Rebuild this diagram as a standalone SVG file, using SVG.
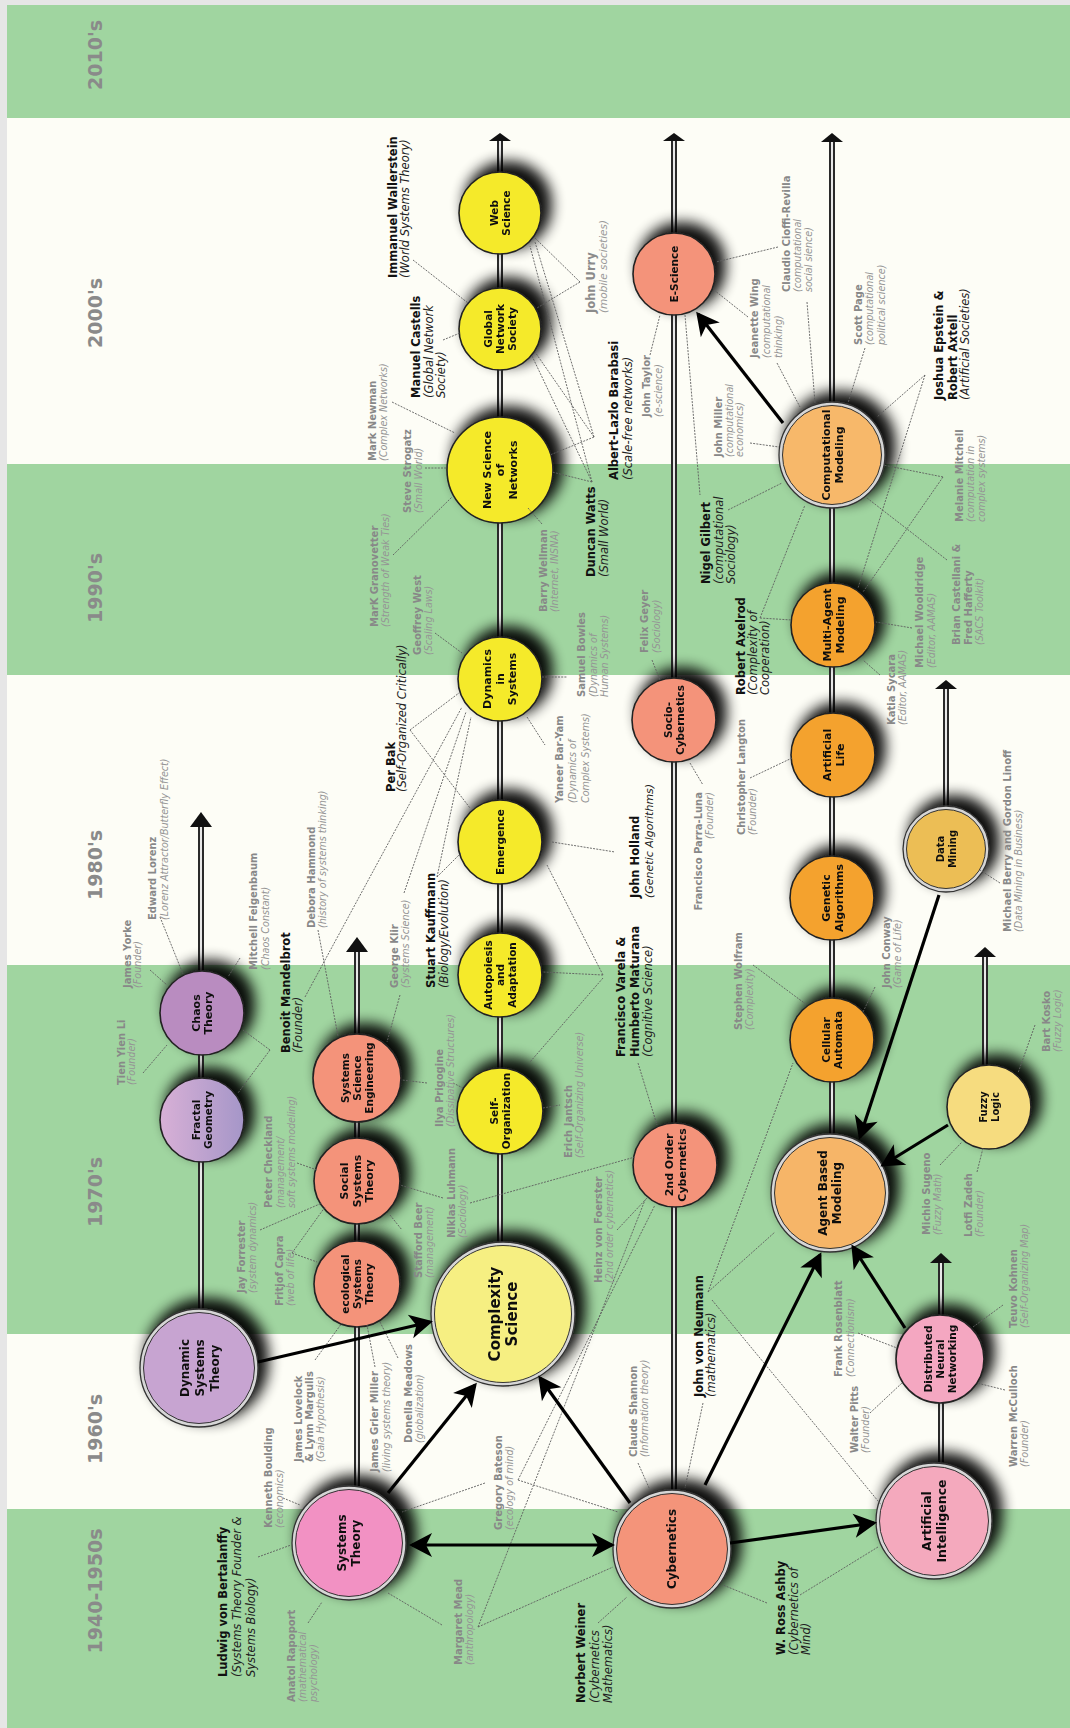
<svg xmlns="http://www.w3.org/2000/svg" width="1070" height="1728" viewBox="0 0 1070 1728">
<style>
.dec{font-family:"DejaVu Sans",Verdana,sans-serif;font-weight:bold;font-size:19px;fill:#8a8a8a;text-anchor:middle}
.nt{font-family:"DejaVu Sans",Verdana,sans-serif;font-weight:bold;fill:#111;text-anchor:middle}
.bl{font-family:"DejaVu Sans",Verdana,sans-serif;font-size:11.5px;fill:#111}
.bl .n{font-weight:bold}
.bl .r{font-style:italic;fill:#222}
.gl{font-family:"DejaVu Sans",Verdana,sans-serif;font-size:9.6px;fill:#959595}
.gl .n{font-weight:bold;font-size:10px;fill:#888}
.gl .r{font-style:italic}
.trk{stroke:#2a2a2a;stroke-width:6;fill:none}
.trk2{stroke:#e8e8e8;stroke-width:2;fill:none}
.dl{stroke:#5e5e5e;stroke-width:0.9;stroke-dasharray:2 1.2;fill:none}
.ar{stroke:#000;stroke-width:3.2;fill:none;marker-end:url(#ah)}
.s1{stroke:#222;stroke-width:1.6}
.dr{fill:#d6d6d6;stroke:#333;stroke-width:1.3}
.in{stroke:#333;stroke-width:1}
.node{filter:url(#sh)}
.ah{fill:#111}
</style>
<defs>
<filter id="sh" x="-60%" y="-60%" width="220%" height="220%">
<feMorphology in="SourceAlpha" operator="dilate" radius="2" result="d"/>
<feGaussianBlur in="d" stdDeviation="7" result="b"/>
<feOffset in="b" dx="8" dy="-8" result="o"/>
<feComponentTransfer in="o" result="o2"><feFuncA type="linear" slope="0.95"/></feComponentTransfer>
<feMerge><feMergeNode in="o2"/><feMergeNode in="SourceGraphic"/></feMerge>
</filter>
<linearGradient id="fg" x1="0" y1="0" x2="1" y2="0">
<stop offset="0" stop-color="#d8b0d6"/><stop offset="1" stop-color="#a596c8"/>
</linearGradient>
<marker id="ah" viewBox="-22 -13 26 26" refX="0" refY="0" markerWidth="26" markerHeight="26" markerUnits="userSpaceOnUse" orient="auto-start-reverse">
<path d="M3,0 L-20,-12 L-14,0 L-20,12 Z" fill="#000"/>
</marker>
</defs>

<g id="background">
<rect x="0" y="0" width="1070" height="1728" fill="#e6e6e6"/>
<rect x="7" y="5" width="1063" height="1723" fill="#fdfdf6"/>
<rect x="7" y="5" width="1063" height="113" fill="#a0d5a0"/>
<rect x="7" y="464" width="1063" height="211" fill="#a0d5a0"/>
<rect x="7" y="965" width="1063" height="369" fill="#a0d5a0"/>
<rect x="7" y="1509" width="1063" height="219" fill="#a0d5a0"/>
</g>

<g id="decades">
<text class="dec" transform="translate(102,55) rotate(-90)">2010's</text>
<text class="dec" transform="translate(102,313) rotate(-90)">2000's</text>
<text class="dec" transform="translate(102,588) rotate(-90)">1990's</text>
<text class="dec" transform="translate(102,865) rotate(-90)">1980's</text>
<text class="dec" transform="translate(102,1192) rotate(-90)">1970's</text>
<text class="dec" transform="translate(102,1429) rotate(-90)">1960's</text>
<text class="dec" transform="translate(102,1591) rotate(-90)">1940-1950s</text>
</g>

<g id="tracks">
<path class="trk" d="M201,1310V826 M357,1487V950 M500,1243V140 M674,1490V140 M832,1134V141 M941,1462V1262 M946,806V688 M985,1065V956"/>
<path class="trk2" d="M201,1310V826 M357,1487V950 M500,1243V140 M674,1490V140 M832,1134V141 M941,1462V1262 M946,806V688 M985,1065V956"/>
<polygon class="ah" points="201,812 190,827 212,827"/>
<polygon class="ah" points="357,937 346,952 368,952"/>
<polygon class="ah" points="500,133 489,141 511,141"/>
<polygon class="ah" points="674,133 663,141 685,141"/>
<polygon class="ah" points="832,133 821,142 843,142"/>
<polygon class="ah" points="941,1253 930,1263 952,1263"/>
<polygon class="ah" points="946,680 935,689 957,689"/>
<polygon class="ah" points="985,947 974,957 996,957"/>
</g>

<g id="n-systems-theory" class="node"><circle cx="349" cy="1543" r="57" class="dr"/><circle cx="349" cy="1543" r="53.5" fill="#f291c3" class="in"/><text class="nt" font-size="12" transform="translate(349,1543) rotate(-90)"><tspan x="0" y="-2.8">Systems</tspan><tspan x="0" y="11.2">Theory</tspan></text></g>
<g id="n-cybernetics" class="node"><circle cx="672" cy="1549" r="59" class="dr"/><circle cx="672" cy="1549" r="55.5" fill="#f4947a" class="in"/><text class="nt" font-size="12" transform="translate(672,1549) rotate(-90)"><tspan x="0" y="4.2">Cybernetics</tspan></text></g>
<g id="n-complexity-science" class="node"><circle cx="503" cy="1314" r="72" class="dr"/><circle cx="503" cy="1314" r="68.5" fill="#f6ef82" class="in"/><text class="nt" font-size="15" transform="translate(503,1314) rotate(-90)"><tspan x="0" y="-3.3">Complexity</tspan><tspan x="0" y="13.7">Science</tspan></text></g>
<g id="n-artificial-intelligence" class="node"><circle cx="934" cy="1521" r="58" class="dr"/><circle cx="934" cy="1521" r="54.5" fill="#f4a9bd" class="in"/><text class="nt" font-size="12.5" transform="translate(934,1521) rotate(-90)"><tspan x="0" y="-2.9">Artificial</tspan><tspan x="0" y="11.6">Intelligence</tspan></text></g>
<g id="n-dynamic-systems-theory" class="node"><circle cx="199" cy="1368" r="59" class="dr"/><circle cx="199" cy="1368" r="55.5" fill="#c7a4d1" class="in"/><text class="nt" font-size="12" transform="translate(199,1368) rotate(-90)"><tspan x="0" y="-10">Dynamic</tspan><tspan x="0" y="5">Systems</tspan><tspan x="0" y="20">Theory</tspan></text></g>
<g id="n-ecological-systems-theory" class="node"><circle cx="357" cy="1284" r="43" fill="#f4937a" class="s1"/><text class="nt" font-size="10.5" transform="translate(357,1284) rotate(-90)"><tspan x="0" y="-8.3">ecological</tspan><tspan x="0" y="3.7">Systems</tspan><tspan x="0" y="15.7">Theory</tspan></text></g>
<g id="n-social-systems-theory" class="node"><circle cx="357" cy="1181" r="43" fill="#f4937a" class="s1"/><text class="nt" font-size="11" transform="translate(357,1181) rotate(-90)"><tspan x="0" y="-8.6">Social</tspan><tspan x="0" y="3.9">Systems</tspan><tspan x="0" y="16.4">Theory</tspan></text></g>
<g id="n-systems-science-engineering" class="node"><circle cx="357" cy="1078" r="44" fill="#f4937a" class="s1"/><text class="nt" font-size="10.5" transform="translate(357,1078) rotate(-90)"><tspan x="0" y="-8.3">Systems</tspan><tspan x="0" y="3.7">Science</tspan><tspan x="0" y="15.7">Engineering</tspan></text></g>
<g id="n-fractal-geometry" class="node"><circle cx="202" cy="1120" r="42" fill="url(#fg)" class="s1"/><text class="nt" font-size="10.5" transform="translate(202,1120) rotate(-90)"><tspan x="0" y="-2.3">Fractal</tspan><tspan x="0" y="9.7">Geometry</tspan></text></g>
<g id="n-chaos-theory" class="node"><circle cx="202" cy="1013" r="42" fill="#b98cc0" class="s1"/><text class="nt" font-size="11" transform="translate(202,1013) rotate(-90)"><tspan x="0" y="-2.4">Chaos</tspan><tspan x="0" y="10.1">Theory</tspan></text></g>
<g id="n-self-organization" class="node"><circle cx="500" cy="1111" r="43" fill="#f5ea2c" class="s1"/><text class="nt" font-size="10.5" transform="translate(500,1111) rotate(-90)"><tspan x="0" y="-2.3">Self-</tspan><tspan x="0" y="9.7">Organization</tspan></text></g>
<g id="n-autopoiesis" class="node"><circle cx="500" cy="975" r="42" fill="#f5ea2c" class="s1"/><text class="nt" font-size="10.5" transform="translate(500,975) rotate(-90)"><tspan x="0" y="-8.3">Autopoiesis</tspan><tspan x="0" y="3.7">and</tspan><tspan x="0" y="15.7">Adaptation</tspan></text></g>
<g id="n-emergence" class="node"><circle cx="500" cy="842" r="42" fill="#f5ea2c" class="s1"/><text class="nt" font-size="10.5" transform="translate(500,842) rotate(-90)"><tspan x="0" y="3.7">Emergence</tspan></text></g>
<g id="n-dynamics-in-systems" class="node"><circle cx="500" cy="679" r="42" fill="#f5ea2c" class="s1"/><text class="nt" font-size="11" transform="translate(500,679) rotate(-90)"><tspan x="0" y="-8.6">Dynamics</tspan><tspan x="0" y="3.9">in</tspan><tspan x="0" y="16.4">Systems</tspan></text></g>
<g id="n-new-science-of-networks" class="node"><circle cx="500" cy="470" r="53" fill="#f5ea2c" class="s1"/><text class="nt" font-size="11" transform="translate(500,470) rotate(-90)"><tspan x="0" y="-9.1">New Science</tspan><tspan x="0" y="3.9">of</tspan><tspan x="0" y="16.9">Networks</tspan></text></g>
<g id="n-global-network-society" class="node"><circle cx="500" cy="329" r="41" fill="#f5ea2c" class="s1"/><text class="nt" font-size="10.5" transform="translate(500,329) rotate(-90)"><tspan x="0" y="-8.3">Global</tspan><tspan x="0" y="3.7">Network</tspan><tspan x="0" y="15.7">Society</tspan></text></g>
<g id="n-web-science" class="node"><circle cx="500" cy="213" r="41" fill="#f5ea2c" class="s1"/><text class="nt" font-size="10.5" transform="translate(500,213) rotate(-90)"><tspan x="0" y="-2.3">Web</tspan><tspan x="0" y="9.7">Science</tspan></text></g>
<g id="n-socio-cybernetics" class="node"><circle cx="674" cy="720" r="42" fill="#f4937a" class="s1"/><text class="nt" font-size="10.5" transform="translate(674,720) rotate(-90)"><tspan x="0" y="-2.3">Socio-</tspan><tspan x="0" y="9.7">Cybernetics</tspan></text></g>
<g id="n-2nd-order-cybernetics" class="node"><circle cx="675" cy="1165" r="42" fill="#f4937a" class="s1"/><text class="nt" font-size="11" transform="translate(675,1165) rotate(-90)"><tspan x="0" y="-2.4">2nd Order</tspan><tspan x="0" y="10.6">Cybernetics</tspan></text></g>
<g id="n-e-science" class="node"><circle cx="674" cy="274" r="41" fill="#f4937a" class="s1"/><text class="nt" font-size="10.5" transform="translate(674,274) rotate(-90)"><tspan x="0" y="3.7">E-Science</tspan></text></g>
<g id="n-computational-modeling" class="node"><circle cx="832" cy="455" r="53" class="dr"/><circle cx="832" cy="455" r="49.5" fill="#f7b86a" class="in"/><text class="nt" font-size="11" transform="translate(832,455) rotate(-90)"><tspan x="0" y="-2.4">Computational</tspan><tspan x="0" y="10.6">Modeling</tspan></text></g>
<g id="n-multi-agent-modeling" class="node"><circle cx="833" cy="625" r="42" fill="#f4a22e" class="s1"/><text class="nt" font-size="11" transform="translate(833,625) rotate(-90)"><tspan x="0" y="-2.4">Multi-Agent</tspan><tspan x="0" y="10.6">Modeling</tspan></text></g>
<g id="n-artificial-life" class="node"><circle cx="833" cy="755" r="42" fill="#f4a22e" class="s1"/><text class="nt" font-size="11" transform="translate(833,755) rotate(-90)"><tspan x="0" y="-2.4">Artificial</tspan><tspan x="0" y="10.6">Life</tspan></text></g>
<g id="n-genetic-algorithms" class="node"><circle cx="832" cy="898" r="42" fill="#f4a22e" class="s1"/><text class="nt" font-size="11" transform="translate(832,898) rotate(-90)"><tspan x="0" y="-2.4">Genetic</tspan><tspan x="0" y="10.6">Algorithms</tspan></text></g>
<g id="n-cellular-automata" class="node"><circle cx="832" cy="1040" r="42" fill="#f4a22e" class="s1"/><text class="nt" font-size="10.5" transform="translate(832,1040) rotate(-90)"><tspan x="0" y="-2.3">Cellular</tspan><tspan x="0" y="9.7">Automata</tspan></text></g>
<g id="n-agent-based-modeling" class="node"><circle cx="830" cy="1193" r="59" class="dr"/><circle cx="830" cy="1193" r="55.5" fill="#f6b567" class="in"/><text class="nt" font-size="12" transform="translate(830,1193) rotate(-90)"><tspan x="0" y="-2.8">Agent Based</tspan><tspan x="0" y="11.2">Modeling</tspan></text></g>
<g id="n-data-mining" class="node"><circle cx="946" cy="849" r="43" class="dr"/><circle cx="946" cy="849" r="39.5" fill="#ecbe55" class="in"/><text class="nt" font-size="10" transform="translate(946,849) rotate(-90)"><tspan x="0" y="-2.5">Data</tspan><tspan x="0" y="9.5">Mining</tspan></text></g>
<g id="n-fuzzy-logic" class="node"><circle cx="989" cy="1107" r="42" fill="#f6dc7f" class="s1"/><text class="nt" font-size="10" transform="translate(989,1107) rotate(-90)"><tspan x="0" y="-2.5">Fuzzy</tspan><tspan x="0" y="9.5">Logic</tspan></text></g>
<g id="n-distributed-neural-networking" class="node"><circle cx="940" cy="1359" r="44" fill="#f4a7c1" class="s1"/><text class="nt" font-size="10.5" transform="translate(940,1359) rotate(-90)"><tspan x="0" y="-8.3">Distributed</tspan><tspan x="0" y="3.7">Neural</tspan><tspan x="0" y="15.7">Networking</tspan></text></g>

<g id="connectors">
<path class="dl" d="M283,1498L300,1505"/>
<path class="dl" d="M315,1360L342,1323"/>
<path class="dl" d="M258,1557L291,1545"/>
<path class="dl" d="M308,1623L322,1602"/>
<path class="dl" d="M375,1367L367,1325"/>
<path class="dl" d="M398,1358L380,1322"/>
<path class="dl" d="M485,1483L402,1512"/>
<path class="dl" d="M518,1480L618,1512"/>
<path class="dl" d="M518,1480L655,1205"/>
<path class="dl" d="M442,1625L388,1593"/>
<path class="dl" d="M478,1627L613,1567"/>
<path class="dl" d="M478,1627L645,1200"/>
<path class="dl" d="M598,1623L627,1597"/>
<path class="dl" d="M638,1463L650,1490"/>
<path class="dl" d="M703,1403L685,1488"/>
<path class="dl" d="M708,1292L793,1063"/>
<path class="dl" d="M708,1292L775,1232"/>
<path class="dl" d="M712,1300L883,1507"/>
<path class="dl" d="M767,1603L723,1585"/>
<path class="dl" d="M800,1595L878,1547"/>
<path class="dl" d="M858,1333L897,1348"/>
<path class="dl" d="M870,1413L902,1383"/>
<path class="dl" d="M1005,1390L977,1383"/>
<path class="dl" d="M1003,1305L973,1327"/>
<path class="dl" d="M940,1165L962,1142"/>
<path class="dl" d="M977,1172L983,1148"/>
<path class="dl" d="M1035,1025L1018,1073"/>
<path class="dl" d="M753,965L807,1005"/>
<path class="dl" d="M875,987L863,1012"/>
<path class="dl" d="M1000,883L980,870"/>
<path class="dl" d="M750,778L792,758"/>
<path class="dl" d="M880,675L863,660"/>
<path class="dl" d="M912,628L876,622"/>
<path class="dl" d="M947,560L867,498"/>
<path class="dl" d="M943,477L883,465"/>
<path class="dl" d="M943,477L863,592"/>
<path class="dl" d="M925,375L877,417"/>
<path class="dl" d="M925,375L858,588"/>
<path class="dl" d="M760,618L792,620"/>
<path class="dl" d="M760,618L805,505"/>
<path class="dl" d="M728,510L782,483"/>
<path class="dl" d="M750,443L779,447"/>
<path class="dl" d="M748,317L714,290"/>
<path class="dl" d="M777,363L800,407"/>
<path class="dl" d="M778,247L716,262"/>
<path class="dl" d="M807,302L815,403"/>
<path class="dl" d="M865,348L848,403"/>
<path class="dl" d="M650,355L660,315"/>
<path class="dl" d="M685,315L700,495"/>
<path class="dl" d="M652,660L660,680"/>
<path class="dl" d="M690,763L703,785"/>
<path class="dl" d="M542,677L567,677"/>
<path class="dl" d="M527,717L545,745"/>
<path class="dl" d="M435,633L462,653"/>
<path class="dl" d="M393,555L452,497"/>
<path class="dl" d="M425,468L447,468"/>
<path class="dl" d="M392,402L455,433"/>
<path class="dl" d="M528,508L542,524"/>
<path class="dl" d="M443,340L460,333"/>
<path class="dl" d="M413,260L468,303"/>
<path class="dl" d="M580,282L535,238"/>
<path class="dl" d="M580,282L537,308"/>
<path class="dl" d="M594,437L535,242"/>
<path class="dl" d="M594,437L535,352"/>
<path class="dl" d="M594,437L550,455"/>
<path class="dl" d="M592,482L530,246"/>
<path class="dl" d="M592,482L532,356"/>
<path class="dl" d="M592,482L552,472"/>
<path class="dl" d="M410,730L459,693"/>
<path class="dl" d="M410,730L470,808"/>
<path class="dl" d="M305,997L462,707"/>
<path class="dl" d="M404,893L466,712"/>
<path class="dl" d="M437,877L471,717"/>
<path class="dl" d="M437,877L461,853"/>
<path class="dl" d="M603,975L543,972"/>
<path class="dl" d="M603,978L530,1062"/>
<path class="dl" d="M603,975L547,865"/>
<path class="dl" d="M638,1063L657,1125"/>
<path class="dl" d="M318,930L338,1036"/>
<path class="dl" d="M270,1050L243,1030"/>
<path class="dl" d="M270,1050L238,1093"/>
<path class="dl" d="M240,958L228,977"/>
<path class="dl" d="M160,917L183,974"/>
<path class="dl" d="M150,970L167,985"/>
<path class="dl" d="M143,1073L167,1045"/>
<path class="dl" d="M297,1163L317,1170"/>
<path class="dl" d="M260,1230L322,1203"/>
<path class="dl" d="M292,1253L325,1207"/>
<path class="dl" d="M292,1253L317,1262"/>
<path class="dl" d="M390,1215L402,1230"/>
<path class="dl" d="M443,1198L400,1185"/>
<path class="dl" d="M470,1203L635,1157"/>
<path class="dl" d="M427,1083L402,1080"/>
<path class="dl" d="M453,1083L463,1088"/>
<path class="dl" d="M400,995L387,1042"/>
<path class="dl" d="M543,1108L560,1105"/>
<path class="dl" d="M617,1230L648,1197"/>
<path class="dl" d="M552,842L615,852"/>
<path class="ar" d="M412,1545L612,1545" marker-start="url(#ah)"/>
<path class="ar" d="M388,1493L475,1385"/>
<path class="ar" d="M630,1503L540,1378"/>
<path class="ar" d="M258,1362L430,1322"/>
<path class="ar" d="M730,1543L874,1523"/>
<path class="ar" d="M705,1485L820,1255"/>
<path class="ar" d="M905,1328L853,1247"/>
<path class="ar" d="M939,895L860,1137"/>
<path class="ar" d="M948,1125L883,1165"/>
<path class="ar" d="M783,423L698,314"/>
</g>

<g id="people">
<text class="gl" transform="translate(272,1528) rotate(-90)"><tspan class="n" x="0" y="0">Kenneth Boulding</tspan><tspan class="r" x="0" y="11">(economics)</tspan></text>
<text class="gl" transform="translate(302,1462) rotate(-90)"><tspan class="n" x="0" y="0">James Lovelock</tspan><tspan class="n" x="0" y="11">&amp; Lynn Margulis</tspan><tspan class="r" x="0" y="22">(Gaia Hypothesis)</tspan></text>
<text class="gl" transform="translate(295,1702) rotate(-90)"><tspan class="n" x="0" y="0">Anatol Rapoport</tspan><tspan class="r" x="0" y="11">(mathematical</tspan><tspan class="r" x="0" y="22">psychology)</tspan></text>
<text class="gl" transform="translate(378,1472) rotate(-90)"><tspan class="n" x="0" y="0">James Grier Miller</tspan><tspan class="r" x="0" y="11.5">(living systems theory)</tspan></text>
<text class="gl" transform="translate(412,1443) rotate(-90)"><tspan class="n" x="0" y="0">Donella Meadows</tspan><tspan class="r" x="0" y="11">(globalization)</tspan></text>
<text class="gl" transform="translate(502,1530) rotate(-90)"><tspan class="n" x="0" y="0">Gregory Bateson</tspan><tspan class="r" x="0" y="11">(ecology of mind)</tspan></text>
<text class="gl" transform="translate(462,1665) rotate(-90)"><tspan class="n" x="0" y="0">Margaret Mead</tspan><tspan class="r" x="0" y="11">(anthropology)</tspan></text>
<text class="gl" transform="translate(637,1457) rotate(-90)"><tspan class="n" x="0" y="0">Claude Shannon</tspan><tspan class="r" x="0" y="11">(Information theory)</tspan></text>
<text class="gl" transform="translate(842,1377) rotate(-90)"><tspan class="n" x="0" y="0">Frank Rosenblatt</tspan><tspan class="r" x="0" y="12">(Connectionism)</tspan></text>
<text class="gl" transform="translate(858,1453) rotate(-90)"><tspan class="n" x="0" y="0">Walter Pitts</tspan><tspan class="r" x="0" y="10.5">(Founder)</tspan></text>
<text class="gl" transform="translate(1017,1467) rotate(-90)"><tspan class="n" x="0" y="0">Warren McCulloch</tspan><tspan class="r" x="0" y="11">(Founder)</tspan></text>
<text class="gl" transform="translate(1017,1328) rotate(-90)"><tspan class="n" x="0" y="0">Teuvo Kohnen</tspan><tspan class="r" x="0" y="11">(Self-Organizing Map)</tspan></text>
<text class="gl" transform="translate(930,1235) rotate(-90)"><tspan class="n" x="0" y="0">Michio Sugeno</tspan><tspan class="r" x="0" y="10.5">(Fuzzy Math)</tspan></text>
<text class="gl" transform="translate(972,1237) rotate(-90)"><tspan class="n" x="0" y="0">Lotfi Zadeh</tspan><tspan class="r" x="0" y="11">(Founder)</tspan></text>
<text class="gl" transform="translate(1050,1052) rotate(-90)"><tspan class="n" x="0" y="0">Bart Kosko</tspan><tspan class="r" x="0" y="10.5">(Fuzzy Logic)</tspan></text>
<text class="gl" transform="translate(742,1030) rotate(-90)"><tspan class="n" x="0" y="0">Stephen Wolfram</tspan><tspan class="r" x="0" y="11">(Complexity)</tspan></text>
<text class="gl" transform="translate(890,988) rotate(-90)"><tspan class="n" x="0" y="0">John Conway</tspan><tspan class="r" x="0" y="10.5">(Game of Life)</tspan></text>
<text class="gl" transform="translate(745,835) rotate(-90)"><tspan class="n" x="0" y="0">Christopher Langton</tspan><tspan class="r" x="0" y="10.5">(Founder)</tspan></text>
<text class="gl" transform="translate(1011,932) rotate(-90)"><tspan class="n" x="0" y="0">Michael Berry and Gordon Linoff</tspan><tspan class="r" x="0" y="11">(Data Mining in Business)</tspan></text>
<text class="gl" transform="translate(895,725) rotate(-90)"><tspan class="n" x="0" y="0">Katia Sycara</tspan><tspan class="r" x="0" y="10.5">(Editor, AAMAS)</tspan></text>
<text class="gl" transform="translate(923,668) rotate(-90)"><tspan class="n" x="0" y="0">Michael Wooldridge</tspan><tspan class="r" x="0" y="11.5">(Editor, AAMAS)</tspan></text>
<text class="gl" transform="translate(960,645) rotate(-90)"><tspan class="n" x="0" y="0">Brian Castellani &amp;</tspan><tspan class="n" x="0" y="11.5">Fred Hafferty</tspan><tspan class="r" x="0" y="23">(SACS Toolkit)</tspan></text>
<text class="gl" transform="translate(963,522) rotate(-90)"><tspan class="n" x="0" y="0">Melanie Mitchell</tspan><tspan class="r" x="0" y="11">(computation in</tspan><tspan class="r" x="0" y="22">complex systems)</tspan></text>
<text class="gl" transform="translate(722,457) rotate(-90)"><tspan class="n" x="0" y="0">John Miller</tspan><tspan class="r" x="0" y="10.5">(computational</tspan><tspan class="r" x="0" y="21">economics)</tspan></text>
<text class="gl" transform="translate(758,358) rotate(-90)"><tspan class="n" x="0" y="0">Jeanette Wing</tspan><tspan class="r" x="0" y="12">(computational</tspan><tspan class="r" x="0" y="24">thinking)</tspan></text>
<text class="gl" transform="translate(790,292) rotate(-90)"><tspan class="n" x="0" y="0">Claudio Cioffi-Revilla</tspan><tspan class="r" x="0" y="10.5">(computational</tspan><tspan class="r" x="0" y="21.5">social sience)</tspan></text>
<text class="gl" transform="translate(862,345) rotate(-90)"><tspan class="n" x="0" y="0">Scott Page</tspan><tspan class="r" x="0" y="11">(computational</tspan><tspan class="r" x="0" y="22.5">political science)</tspan></text>
<text class="gl" transform="translate(650,417) rotate(-90)"><tspan class="n" x="0" y="0">John Taylor</tspan><tspan class="r" x="0" y="12">(e-science)</tspan></text>
<text class="gl" transform="translate(648,653) rotate(-90)"><tspan class="n" x="0" y="0">Felix Geyer</tspan><tspan class="r" x="0" y="11.5">(Sociology)</tspan></text>
<text class="gl" transform="translate(702,792) rotate(-90)" text-anchor="end"><tspan class="n" x="0" y="0">Francisco Parra-Luna</tspan><tspan class="r" x="0" y="10.5">(Founder)</tspan></text>
<text class="gl" transform="translate(125,1085) rotate(-90)"><tspan class="n" x="0" y="0">Tien Yien Li</tspan><tspan class="r" x="0" y="10">(Founder)</tspan></text>
<text class="gl" transform="translate(131,988) rotate(-90)"><tspan class="n" x="0" y="0">James Yorke</tspan><tspan class="r" x="0" y="9.5">(Founder)</tspan></text>
<text class="gl" transform="translate(156,920) rotate(-90)"><tspan class="n" x="0" y="0">Edward Lorenz</tspan><tspan class="r" x="0" y="12">(Lorenz Attractor/Butterfly Effect)</tspan></text>
<text class="gl" transform="translate(257,970) rotate(-90)"><tspan class="n" x="0" y="0">Mitchell Feigenbaum</tspan><tspan class="r" x="0" y="12">(Chaos Constant)</tspan></text>
<text class="gl" transform="translate(315,928) rotate(-90)"><tspan class="n" x="0" y="0">Debora Hammond</tspan><tspan class="r" x="0" y="11">(history of systems thinking)</tspan></text>
<text class="gl" transform="translate(272,1208) rotate(-90)"><tspan class="n" x="0" y="0">Peter Checkland</tspan><tspan class="r" x="0" y="11.5">(management/</tspan><tspan class="r" x="0" y="23">soft systems modeling)</tspan></text>
<text class="gl" transform="translate(245,1293) rotate(-90)"><tspan class="n" x="0" y="0">Jay Forrester</tspan><tspan class="r" x="0" y="11">(system dynamics)</tspan></text>
<text class="gl" transform="translate(283,1306) rotate(-90)"><tspan class="n" x="0" y="0">Fritjof Capra</tspan><tspan class="r" x="0" y="10.5">(web of life)</tspan></text>
<text class="gl" transform="translate(422,1278) rotate(-90)"><tspan class="n" x="0" y="0">Stafford Beer</tspan><tspan class="r" x="0" y="11">(management)</tspan></text>
<text class="gl" transform="translate(455,1238) rotate(-90)"><tspan class="n" x="0" y="0">Niklas Luhmann</tspan><tspan class="r" x="0" y="10.5">(Sociology)</tspan></text>
<text class="gl" transform="translate(443,1127) rotate(-90)"><tspan class="n" x="0" y="0">Ilya Prigogine</tspan><tspan class="r" x="0" y="10.5">(Dissipative Structures)</tspan></text>
<text class="gl" transform="translate(398,988) rotate(-90)"><tspan class="n" x="0" y="0">George Klir</tspan><tspan class="r" x="0" y="10.5">(Systems Science)</tspan></text>
<text class="gl" transform="translate(572,1158) rotate(-90)"><tspan class="n" x="0" y="0">Erich Jantsch</tspan><tspan class="r" x="0" y="11">(Self-Organizing Universe)</tspan></text>
<text class="gl" transform="translate(602,1283) rotate(-90)"><tspan class="n" x="0" y="0">Heinz von Foerster</tspan><tspan class="r" x="0" y="11">(2nd order cybernetics)</tspan></text>
<text class="gl" transform="translate(378,627) rotate(-90)"><tspan class="n" x="0" y="0">MarK Granovetter</tspan><tspan class="r" x="0" y="10.5">(Strength of Weak Ties)</tspan></text>
<text class="gl" transform="translate(411,513) rotate(-90)"><tspan class="n" x="0" y="0">Steve Strogatz</tspan><tspan class="r" x="0" y="11">(Small World)</tspan></text>
<text class="gl" transform="translate(376,461) rotate(-90)"><tspan class="n" x="0" y="0">Mark Newman</tspan><tspan class="r" x="0" y="11">(Complex Networks)</tspan></text>
<text class="gl" transform="translate(421,655) rotate(-90)"><tspan class="n" x="0" y="0">Geoffrey West</tspan><tspan class="r" x="0" y="11">(Scaling Laws)</tspan></text>
<text class="gl" transform="translate(547,612) rotate(-90)"><tspan class="n" x="0" y="0">Barry Wellman</tspan><tspan class="r" x="0" y="11">(Internet, INSNA)</tspan></text>
<text class="gl" transform="translate(585,697) rotate(-90)"><tspan class="n" x="0" y="0">Samuel Bowles</tspan><tspan class="r" x="0" y="11.5">(Dynamics of</tspan><tspan class="r" x="0" y="23">Human Systems)</tspan></text>
<text class="gl" transform="translate(563,803) rotate(-90)"><tspan class="n" x="0" y="0">Yaneer Bar-Yam</tspan><tspan class="r" x="0" y="13">(Dynamics of</tspan><tspan class="r" x="0" y="26">Complex Systems)</tspan></text>

<text class="bl" font-size="12.5" transform="translate(227,1677) rotate(-90)"><tspan class="n" x="0" y="0">Ludwig von Bertalanffy</tspan><tspan class="r" x="0" y="14">(Systems Theory Founder &amp;</tspan><tspan class="r" x="0" y="28">Systems Biology)</tspan></text>
<text class="bl" transform="translate(585,1703) rotate(-90)"><tspan class="n" x="0" y="0">Norbert Weiner</tspan><tspan class="r" x="0" y="13.5">(Cybernetics</tspan><tspan class="r" x="0" y="27">Mathematics)</tspan></text>
<text class="bl" font-size="12.5" transform="translate(785,1655) rotate(-90)"><tspan class="n" x="0" y="0">W. Ross Ashby</tspan><tspan class="r" x="0" y="12.5">(Cybernetics of</tspan><tspan class="r" x="0" y="25">Mind)</tspan></text>
<text class="bl" transform="translate(703,1397) rotate(-90)"><tspan class="n" x="0" y="0">John von Neumann</tspan><tspan class="r" x="0" y="12">(mathematics)</tspan></text>
<text class="bl" transform="translate(625,1057) rotate(-90)"><tspan class="n" x="0" y="0">Francisco Varela &amp;</tspan><tspan class="n" x="0" y="14">Humberto Maturana</tspan><tspan class="r" x="0" y="27">(Cognitive Science)</tspan></text>
<text class="bl" transform="translate(435,988) rotate(-90)"><tspan class="n" x="0" y="0">Stuart Kauffmann</tspan><tspan class="r" x="0" y="13">(Biology/Evolution)</tspan></text>
<text class="bl" font-size="11" transform="translate(290,1053) rotate(-90)"><tspan class="n" x="0" y="0">Benoit Mandelbrot</tspan><tspan class="r" x="0" y="12">(Founder)</tspan></text>
<text class="bl" transform="translate(639,898) rotate(-90)"><tspan class="n" x="0" y="0">John Holland</tspan><tspan class="r" x="0" y="14" font-size="11">(Genetic Algorithms)</tspan></text>
<text class="bl" font-size="10" transform="translate(395,792) rotate(-90)"><tspan class="n" x="0" y="0">Per Bak</tspan><tspan class="r" x="0" y="11">(Self-Organized Critically)</tspan></text>
<text class="bl" transform="translate(595,577) rotate(-90)"><tspan class="n" x="0" y="0">Duncan Watts</tspan><tspan class="r" x="0" y="13">(Small World)</tspan></text>
<text class="bl" transform="translate(618,480) rotate(-90)"><tspan class="n" x="0" y="0">Albert-Lazlo Barabasi</tspan><tspan class="r" x="0" y="14">(Scale-free networks)</tspan></text>
<text class="bl" font-size="11" transform="translate(420,398) rotate(-90)"><tspan class="n" x="0" y="0">Manuel Castells</tspan><tspan class="r" x="0" y="12.5">(Global Network</tspan><tspan class="r" x="0" y="25">Society)</tspan></text>
<text class="bl" font-size="10" transform="translate(397,278) rotate(-90)"><tspan class="n" x="0" y="0">Immanuel Wallerstein</tspan><tspan class="r" x="0" y="11.5">(World Systems Theory)</tspan></text>
<text class="bl" transform="translate(710,584) rotate(-90)"><tspan class="n" x="0" y="0">Nigel Gilbert</tspan><tspan class="r" x="0" y="12.5">(computational</tspan><tspan class="r" x="0" y="25">Sociology)</tspan></text>
<text class="bl" font-size="12" transform="translate(745,695) rotate(-90)"><tspan class="n" x="0" y="0">Robert Axelrod</tspan><tspan class="r" x="0" y="12">(Complexity of</tspan><tspan class="r" x="0" y="24">Cooperation)</tspan></text>
<text class="bl" font-size="11" transform="translate(943,400) rotate(-90)"><tspan class="n" x="0" y="0">Joshua Epstein &amp;</tspan><tspan class="n" x="0" y="13.5">Robert Axtell</tspan><tspan class="r" x="0" y="26">(Artificial Societies)</tspan></text>
<text class="bl" style="fill:#8b8b8b" transform="translate(595,313) rotate(-90)"><tspan class="n" x="0" y="0">John Urry</tspan><tspan class="r" x="0" y="12" font-size="10.5" style="fill:#9a9a9a">(mobile societies)</tspan></text>
</g>
</svg>
